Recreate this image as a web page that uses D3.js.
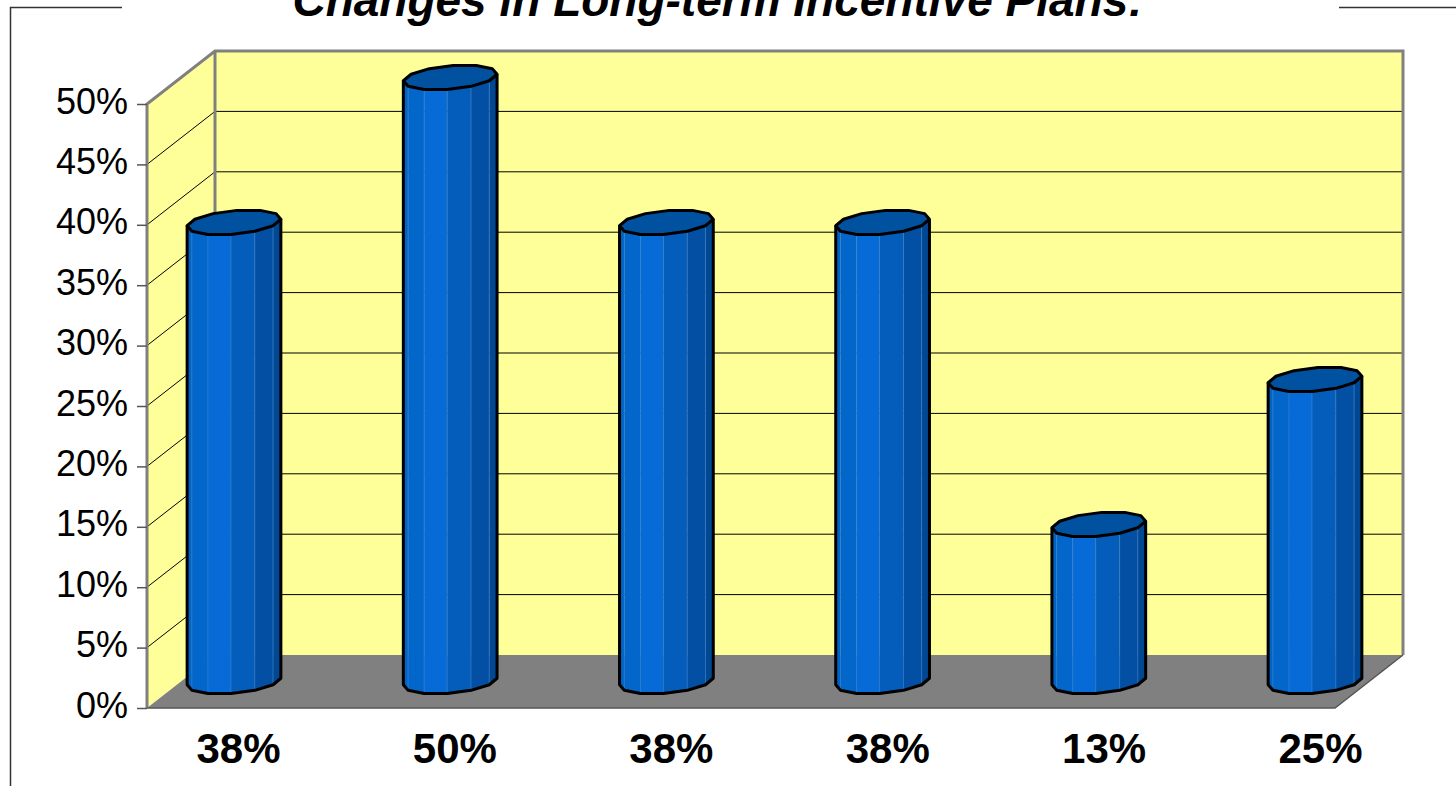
<!DOCTYPE html>
<html>
<head>
<script src="https://d3js.org/d3.v7.min.js" charset="utf-8"></script>
<style type="text/css">
	body { margin: 0; background: #ffffff; font-family: Arial, "Liberation Sans", sans-serif; }
</style>
</head>
<body>
<script>
// chart data
var categories = ["38%", "50%", "38%", "38%", "13%", "25%"];
var values = [0.38, 0.50, 0.38, 0.38, 0.13, 0.25];
var yTicks = [0, 0.05, 0.10, 0.15, 0.20, 0.25, 0.30, 0.35, 0.40, 0.45, 0.50];
var title = "Changes in Long-term Incentive Plans:";

var w = 1456, h = 786;
var depthX = 68, depthY = -53;   // oblique offset front -> back wall

var svg = d3.select("body").append("svg")
	.attr("width", w)
	.attr("height", h);

var y = d3.scaleLinear().domain([0, 0.5]).range([708, 104]);
var xFront = [147, 1335];
var xBars = d3.scalePoint().domain(d3.range(categories.length)).range([234, 1315]);
var xLabels = d3.scalePoint().domain(d3.range(categories.length)).range([238, 1320]);

// outer frame bits
svg.append("path")
	.attr("d", "M122,7.5 H10.5 V786")
	.attr("fill", "none").attr("stroke", "#333").attr("stroke-width", 1.5);
svg.append("path")
	.attr("d", "M1339,7.5 H1456")
	.attr("fill", "none").attr("stroke", "#333").attr("stroke-width", 1.5);

// title (cut at the top edge, as in the original)
svg.append("text")
	.attr("x", 718).attr("y", 16)
	.attr("text-anchor", "middle")
	.style("font-size", "46px").style("font-weight", "bold").style("font-style", "italic")
	.text(title);

var y0 = y(0), yTop = y(0.5);
var bx0 = xFront[0] + depthX, bx1 = xFront[1] + depthX;

// back wall and side wall
svg.append("polygon")
	.attr("points", [[bx0, yTop + depthY], [bx1, yTop + depthY], [bx1, y0 + depthY], [bx0, y0 + depthY]].join(" "))
	.attr("fill", "#FFFF99");
svg.append("polygon")
	.attr("points", [[xFront[0], yTop], [bx0, yTop + depthY], [bx0, y0 + depthY], [xFront[0], y0]].join(" "))
	.attr("fill", "#FFFF99");

// gridlines
var grid = svg.append("g");
yTicks.filter(function(d) { return d > 0 && d < 0.5; }).forEach(function(d) {
	grid.append("path")
		.attr("d", "M" + xFront[0] + "," + y(d) + " L" + bx0 + "," + (y(d) + depthY) + " H" + bx1)
		.attr("fill", "none").attr("stroke", "#000").attr("stroke-width", 1);
});

// floor
svg.append("polygon")
	.attr("points", [[xFront[0], y0], [bx0, y0 + depthY], [bx1, y0 + depthY], [xFront[1], y0]].join(" "))
	.attr("fill", "#808080");

// wall edges
svg.append("path")
	.attr("d", "M" + xFront[0] + "," + y0 + " V" + yTop + " L" + bx0 + "," + (yTop + depthY) +
		" H" + bx1 + " V" + (y0 + depthY) + " M" + bx0 + "," + (yTop + depthY) + " V" + (y0 + depthY))
	.attr("fill", "none").attr("stroke", "#808080").attr("stroke-width", 3);
svg.append("path")
	.attr("d", "M" + xFront[0] + "," + y0 + " H" + xFront[1] + " L" + bx1 + "," + (y0 + depthY))
	.attr("fill", "none").attr("stroke", "#555").attr("stroke-width", 1.5);

// y axis
var yAxis = svg.append("g")
	.attr("transform", "translate(" + xFront[0] + ",0)")
	.call(d3.axisLeft(y).tickValues(yTicks).tickFormat(d3.format(".0%")).tickSize(10).tickPadding(9));
yAxis.select(".domain").remove();
yAxis.selectAll(".tick line").attr("stroke", "#555").attr("stroke-width", 1.5);
yAxis.selectAll(".tick text")
	.attr("dy", null).attr("y", 9)
	.style("font-size", "36px").style("font-family", "Arial, 'Liberation Sans', sans-serif").attr("fill", "#000");

// cylinders
var N = 12, R = 44.5, a = 15, b = 12.5;
var colorScale = d3.scaleLinear().domain([-1, -0.3, 1]).range(["#0062C4", "#066BD6", "#00448F"]);

function ring(cx, cy) {
	return d3.range(N).map(function(k) {
		var t = 2 * Math.PI * k / N + Math.PI / N;
		return [cx + R * Math.cos(t) + a * Math.sin(t), cy - b * Math.sin(t)];
	});
}

var bars = svg.append("g").selectAll("g")
	.data(values)
	.enter().append("g");

bars.each(function(v, i) {
	var g = d3.select(this);
	var cx = xBars(i);
	var cyTop = y(v) + depthY / 2, cyBot = y(0) + depthY / 2;
	var top = ring(cx, cyTop), bot = ring(cx, cyBot);
	var visible = [];
	for (var k = 0; k < N; k++) {
		var k2 = (k + 1) % N;
		if (top[k2][0] > top[k][0] && (top[k][1] + top[k2][1]) / 2 >= cyTop - 0.01) visible.push(k);
	}
	// facets
	visible.forEach(function(k) {
		var k2 = (k + 1) % N;
		var mid = ((top[k][0] + top[k2][0]) / 2 - cx) / 47;
		g.append("polygon")
			.attr("points", [top[k], top[k2], bot[k2], bot[k]].join(" "))
			.attr("fill", colorScale(mid))
			.attr("stroke", "#3D84D0").attr("stroke-width", 0.8).attr("stroke-opacity", 0.6);
	});
	// outline of body
	var kFirst = visible[0], kLast = (visible[visible.length - 1] + 1) % N;
	var bpts = [bot[kFirst]];
	visible.forEach(function(k) { bpts.push(bot[(k + 1) % N]); });
	var d = "M" + top[kFirst] + " L" + bpts.join(" L") + " L" + top[kLast];
	g.append("path").attr("d", d)
		.attr("fill", "none").attr("stroke", "#000").attr("stroke-width", 3).attr("stroke-linejoin", "round");
	// top face
	g.append("polygon")
		.attr("points", top.join(" "))
		.attr("fill", "#00519F")
		.attr("stroke", "#000").attr("stroke-width", 3).attr("stroke-linejoin", "round");
});

// category labels
var xAxis = svg.append("g")
	.attr("transform", "translate(0," + y0 + ")")
	.call(d3.axisBottom(xLabels).tickFormat(function(i) { return categories[i]; }).tickSize(0).tickPadding(0));
xAxis.select(".domain").remove();
xAxis.selectAll(".tick text")
	.attr("dy", null).attr("y", 55)
	.style("font-size", "42px").style("font-weight", "bold")
	.style("font-family", "Arial, 'Liberation Sans', sans-serif").attr("fill", "#000");
</script>
</body>
</html>
